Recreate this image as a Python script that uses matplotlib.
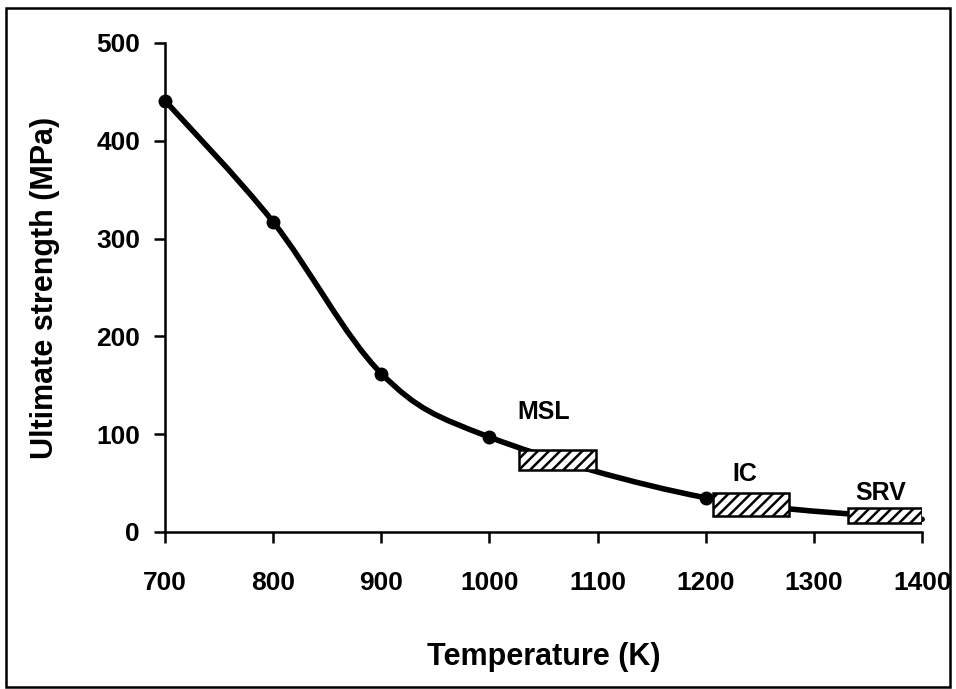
import matplotlib
matplotlib.use("Agg")
import matplotlib.pyplot as plt
from matplotlib.path import Path
from matplotlib.patches import PathPatch, Rectangle
import numpy as np

plt.rcParams['font.family'] = ['Liberation Sans', 'DejaVu Sans']
plt.rcParams['font.weight'] = 'bold'

# data
temps = [700, 800, 900, 1000, 1200, 1400]
strength = [441, 317, 162, 97, 35, 13]

# shaded bands: name, x range, y range, label position
bands = ["MSL", "IC", "SRV"]
band_x = [(1027, 1098), (1207, 1277), (1331, 1400)]
band_y = [(63, 84), (16, 40), (9, 25)]
label_xy = [(1050, 123), (1236, 59), (1362, 40)]

fig = plt.figure(figsize=(9.56, 6.89), dpi=100)
ax = fig.add_axes([0.1726, 0.2279, 0.792, 0.7097])

# smooth line (catmull-rom as bezier, like excel smoothing)
x = np.array(temps, float)
y = np.array(strength, float)
verts = [(x[0], y[0])]
codes = [Path.MOVETO]
for i in range(len(x) - 1):
    p0 = np.array([x[max(i - 1, 0)], y[max(i - 1, 0)]])
    p1 = np.array([x[i], y[i]])
    p2 = np.array([x[i + 1], y[i + 1]])
    p3 = np.array([x[min(i + 2, len(x) - 1)], y[min(i + 2, len(x) - 1)]])
    c1 = p1 + (p2 - p0) / 6.0
    c2 = p2 - (p3 - p1) / 6.0
    verts += [tuple(c1), tuple(c2), tuple(p2)]
    codes += [Path.CURVE4] * 3
ax.add_patch(PathPatch(Path(verts, codes), fill=False, lw=4, color='black',
                       capstyle='round', zorder=2, clip_on=False))
ax.plot(temps[:-1], strength[:-1], 'o', color='black', ms=9, zorder=3, clip_on=False)

plt.rcParams['hatch.linewidth'] = 1.8
for name, (x0, x1), (y0, y1), (lx, ly) in zip(bands, band_x, band_y, label_xy):
    ax.add_patch(Rectangle((x0, y0), x1 - x0, y1 - y0, facecolor='white',
                           edgecolor='black', hatch='///', lw=1.8, zorder=4))
    ax.text(lx, ly, name, fontsize=18, fontweight='bold', ha='center', va='center', zorder=5)

ax.set_xlim(700, 1400)
ax.set_ylim(0, 500)
ax.set_xticks(range(700, 1401, 100))
ax.set_yticks(range(0, 501, 100))
ax.spines['top'].set_visible(False)
ax.spines['right'].set_visible(False)
ax.spines['left'].set_linewidth(1.8)
ax.spines['bottom'].set_linewidth(1.8)
ax.tick_params(direction='out', length=8, width=1.8, labelsize=19, pad=10)
ax.tick_params(axis='x', pad=20)
for t in ax.get_xticklabels() + ax.get_yticklabels():
    t.set_fontweight('bold')
ax.set_xlabel("Temperature (K)", fontsize=22, fontweight='bold', labelpad=34)
ax.set_ylabel("Ultimate strength (MPa)", fontsize=22, fontweight='bold', labelpad=26)

# frame round the figure
fig.patches.append(Rectangle((0.006, 0.003), 0.988, 0.985, transform=fig.transFigure,
                             fill=False, edgecolor='black', lw=1.8))

fig.savefig("out.png", dpi=100)
